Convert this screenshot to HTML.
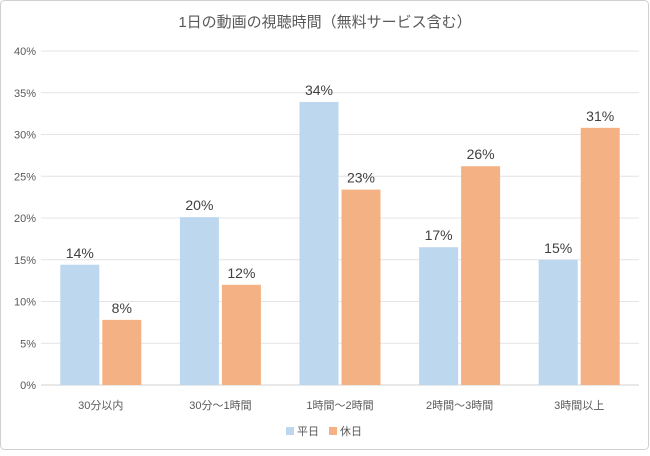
<!DOCTYPE html>
<html><head><meta charset="utf-8"><style>
body{margin:0;background:#fff;}
svg text{font-family:"Liberation Sans","Noto Sans CJK JP",sans-serif;}
</style></head><body>
<svg id="chart" width="650" height="451" xmlns="http://www.w3.org/2000/svg">
<rect x="0.5" y="0.5" width="648" height="449" rx="4" fill="#fff" stroke="#d0d0d0"/>
<text x="325" y="27" text-anchor="middle" font-size="15" fill="#595959">1日の動画の視聴時間（無料サービス含む）</text>
<g id="grid"></g><g id="bars"></g><g id="labels"></g>
<g>
<rect x="286" y="427" width="8" height="8" fill="#BDD7EE"/>
<text x="297" y="435" font-size="11" fill="#595959">平日</text>
<rect x="329" y="427" width="8" height="8" fill="#F4B183"/>
<text x="340" y="435" font-size="11" fill="#595959">休日</text>
</g>
</svg>
<script>
const categories=["30分以内","30分～1時間","1時間～2時間","2時間～3時間","3時間以上"];
const weekday=[14.4,20.1,33.9,16.5,15.0];
const holiday=[7.8,12.0,23.4,26.2,30.8];
const weekdayLabels=["14%","20%","34%","17%","15%"];
const holidayLabels=["8%","12%","23%","26%","31%"];
const ticks=[0,5,10,15,20,25,30,35,40];
const NS="http://www.w3.org/2000/svg";
const x0=41,x1=639,y0=385,y1=51;
const y=v=>y0-(v/40)*(y0-y1);
const gw=(x1-x0)/categories.length;
function mk(t,a,p,txt){const e=document.createElementNS(NS,t);for(const k in a)e.setAttribute(k,a[k]);if(txt!=null)e.textContent=txt;p.appendChild(e);return e;}
const grid=document.getElementById('grid'),bars=document.getElementById('bars'),labels=document.getElementById('labels');
ticks.forEach(t=>{
 const l=mk('line',{x1:x0,x2:x1,y1:y(t),y2:y(t),stroke:t===0?'#d0d0d0':'#e4e4e4'},grid);
 
 
 const tx=mk('text',{x:36,y:y(t)+4,'text-anchor':'end','font-size':11,fill:'#595959'},grid,t+'%');
 
 
});
categories.forEach((c,i)=>{
 const cx=x0+gw*(i+0.5);
 const bw=39;
 const a=mk('rect',{x:cx-bw-1.5,y:y(weekday[i]),width:bw,height:y0-y(weekday[i]),fill:'#BDD7EE'},bars);
 
 
 const b=mk('rect',{x:cx+1.5,y:y(holiday[i]),width:bw,height:y0-y(holiday[i]),fill:'#F4B183'},bars);
 
 
 const la=mk('text',{x:cx-bw/2-1.5,y:y(weekday[i])-7,'text-anchor':'middle','font-size':14,fill:'#404040'},labels,weekdayLabels[i]);
 
 
 const lb=mk('text',{x:cx+bw/2+1.5,y:y(holiday[i])-7,'text-anchor':'middle','font-size':14,fill:'#404040'},labels,holidayLabels[i]);
 
 
 const cl=mk('text',{x:cx,y:409,'text-anchor':'middle','font-size':11,fill:'#595959'},labels,c);
 
 
});
</script>
</body></html>
